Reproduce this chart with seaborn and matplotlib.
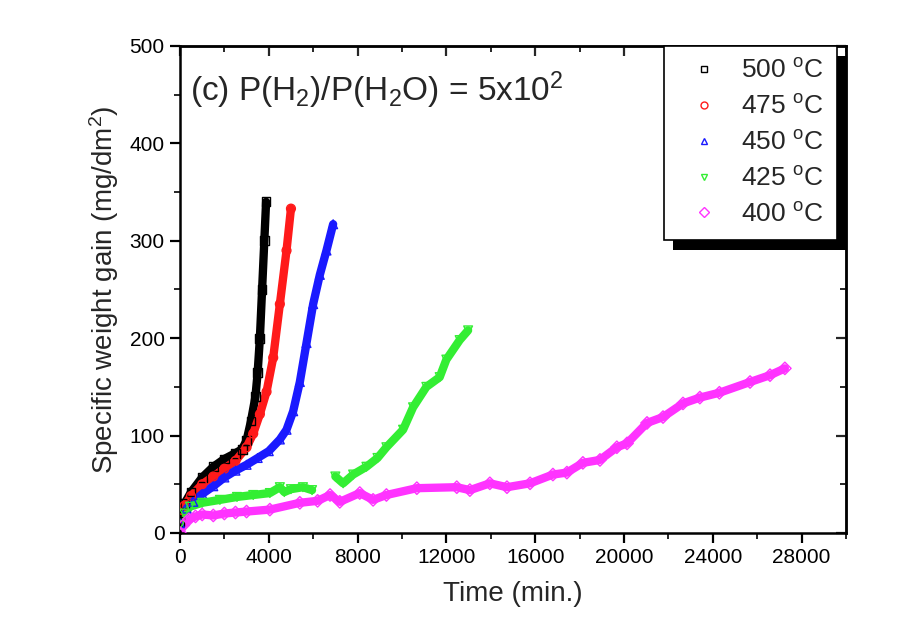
import numpy as np
import pandas as pd
import matplotlib
matplotlib.use("Agg")
import matplotlib.pyplot as plt
import seaborn as sns
from matplotlib.lines import Line2D
from matplotlib.patches import Rectangle
from matplotlib.transforms import IdentityTransform
from matplotlib.ticker import MultipleLocator

# ---------------- data ----------------
labels = ["500 $^\\mathrm{o}$C", "475 $^\\mathrm{o}$C", "450 $^\\mathrm{o}$C",
          "425 $^\\mathrm{o}$C", "400 $^\\mathrm{o}$C"]
colors = ["#000000", "#ff1a1a", "#1a1aff", "#33ee33", "#ff33ff"]
markers = ["s", "o", "^", "v", "D"]

t500 = [0, 200, 500, 1000, 1500, 2000, 2500, 2800, 3000, 3200, 3400, 3500, 3600, 3700, 3800, 3880]
w500 = [12, 30, 42, 57, 68, 76, 82, 86, 95, 115, 140, 165, 200, 250, 300, 340]

t475 = [0, 200, 500, 1000, 1500, 2000, 2500, 3000, 3300, 3600, 3900, 4200, 4500, 4800, 5000]
w475 = [15, 28, 38, 50, 58, 66, 74, 88, 102, 122, 145, 180, 235, 290, 333]

t450 = [0, 300, 600, 1000, 1500, 2000, 2500, 3000, 3500, 4000, 4500, 4800, 5100, 5400,
        5700, 6000, 6300, 6600, 6900]
w450 = [10, 25, 32, 40, 48, 57, 64, 70, 77, 84, 96, 106, 125, 155, 195, 235, 265, 290, 317]

t425a = [0, 200, 450, 1000, 1800, 2570, 3300, 4050, 4500, 4700, 5000, 5540, 5950]
w425a = [8, 20, 27, 31, 34, 37, 39, 41, 47, 42, 45, 47, 44]
t425b = [7000, 7350, 7800, 8400, 8900, 9300, 10050, 10500, 11100, 11700, 12000, 12600, 12980]
w425b = [58, 51, 60, 68, 77, 88, 106, 129, 150, 160, 178, 198, 208]

t400 = [0, 150, 400, 700, 1000, 1500, 2000, 2500, 3000, 4050, 5400, 6200, 6760, 7200, 8100,
        8700, 9300, 10670, 12470, 13060, 13960, 14730, 15770, 16800, 17430, 18150,
        18920, 19680, 20140, 21040, 21760, 22660, 23420, 24300, 25680, 26580, 27250]
w400 = [0, 8, 14, 17, 19, 18, 20, 21, 22, 24, 31, 33, 39, 32, 41, 34, 39, 46, 47, 44, 51, 47,
        51, 60, 62, 72, 75, 88, 92, 113, 119, 133, 139, 144, 155, 162, 169]

series = [
    (labels[0], 0, t500, w500),
    (labels[1], 0, t475, w475),
    (labels[2], 0, t450, w450),
    (labels[3], 0, t425a, w425a),
    (labels[3], 1, t425b, w425b),
    (labels[4], 0, t400, w400),
]
rows = []
for lab, seg, ts, ws in series:
    for t, w in zip(ts, ws):
        rows.append({"Temp": lab, "seg": f"{lab}-{seg}", "t": t, "w": w})
df = pd.DataFrame(rows)

# ---------------- plot ----------------
sns.set_style("white")
plt.rcParams["font.family"] = ["Liberation Sans", "DejaVu Sans"]
plt.rcParams["mathtext.fontset"] = "custom"
plt.rcParams["mathtext.rm"] = "Liberation Sans"
plt.rcParams["mathtext.it"] = "Liberation Sans"

fig = plt.figure(figsize=(9.21, 6.33), dpi=100)
ax = fig.add_axes([0.1954, 0.158, 0.7231, 0.7694])

palette = dict(zip(labels, colors))
sns.lineplot(data=df, x="t", y="w", hue="Temp", units="seg", estimator=None,
             palette=palette, hue_order=labels, lw=6, ax=ax, legend=False,
             sort=False)
mk = dict(zip(labels, markers))
for lab in labels:
    sub = df[df["Temp"] == lab]
    sns.scatterplot(data=sub, x="t", y="w", marker=mk[lab], s=40,
                    facecolor="none", edgecolor=palette[lab], linewidth=1.0,
                    ax=ax, legend=False, zorder=3)

ax.set_xlim(0, 30000)
ax.set_ylim(0, 500)
ax.set_xticks([0, 4000, 8000, 12000, 16000, 20000, 24000, 28000])
ax.xaxis.set_minor_locator(MultipleLocator(2000))
ax.yaxis.set_major_locator(MultipleLocator(100))
ax.yaxis.set_minor_locator(MultipleLocator(50))

for sp in ax.spines.values():
    sp.set_linewidth(1.8)
    sp.set_color("black")
ax.tick_params(which="major", direction="out", length=7, width=1.6, labelsize=15, pad=4,
               bottom=True, left=True, colors="black")
ax.tick_params(which="minor", direction="out", length=4, width=1.4,
               bottom=True, left=True)

secx = ax.secondary_xaxis("top")
secx.xaxis.set_major_locator(MultipleLocator(4000))
secx.xaxis.set_minor_locator(MultipleLocator(2000))
secx.tick_params(which="major", direction="in", length=7, width=1.6, labeltop=False)
secx.tick_params(which="minor", direction="in", length=4, width=1.4)
secx.spines["top"].set_linewidth(1.8)
secy = ax.secondary_yaxis("right")
secy.yaxis.set_major_locator(MultipleLocator(100))
secy.yaxis.set_minor_locator(MultipleLocator(50))
secy.tick_params(which="major", direction="in", length=7, width=1.6, labelright=False)
secy.tick_params(which="minor", direction="in", length=4, width=1.4)
secy.spines["right"].set_linewidth(1.8)

ax.set_xlabel("Time (min.)", fontsize=20, labelpad=10)
ax.set_ylabel("Specific weight gain (mg/dm$^\\mathrm{2}$)", fontsize=20, labelpad=6)

ax.text(0.015, 0.91, "(c) P(H$_\\mathrm{2}$)/P(H$_\\mathrm{2}$O) = 5x10$^\\mathrm{2}$",
        transform=ax.transAxes, fontsize=24, ha="left", va="center")

handles = [Line2D([], [], linestyle="none", marker=m, markersize=5, markerfacecolor="none",
                  markeredgecolor=c, markeredgewidth=1.0) for m, c in zip(markers, colors)]
leg = ax.legend(handles, labels, loc="upper right", bbox_to_anchor=(0.986, 1.0),
                borderaxespad=0, fontsize=19, frameon=True, fancybox=False,
                handlelength=2.0, handletextpad=0.4, borderpad=0.5, labelspacing=0.45)
leg.get_frame().set_edgecolor("black")
leg.get_frame().set_linewidth(1.2)
leg.get_frame().set_facecolor("white")
leg.get_frame().set_alpha(1)
leg.set_zorder(10)

fig.canvas.draw()
bb = leg.get_window_extent()
shadow = Rectangle((bb.x0 + 9, bb.y0 - 10), bb.width, bb.height, transform=IdentityTransform(),
                   facecolor="black", edgecolor="none", zorder=9, clip_on=False)
ax.add_artist(shadow)

fig.savefig("out.png", dpi=100)
